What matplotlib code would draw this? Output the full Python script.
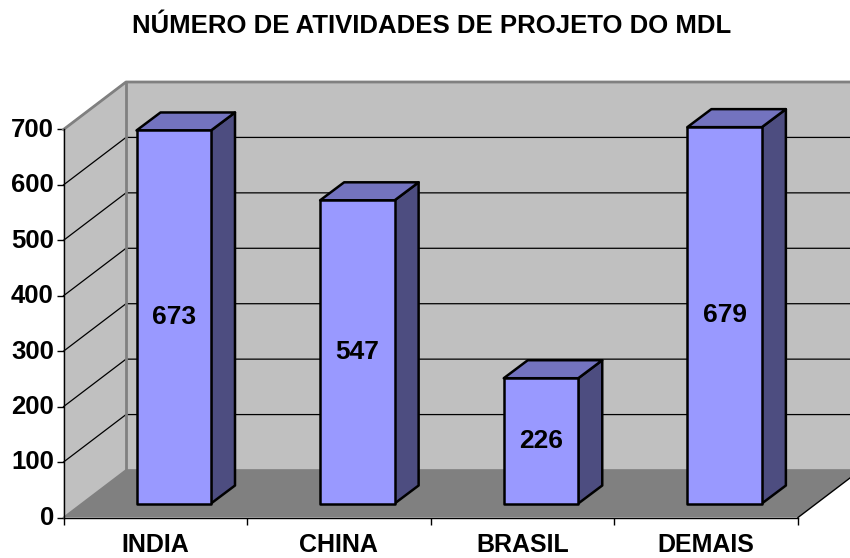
import matplotlib
matplotlib.use('Agg')
import matplotlib.pyplot as plt
from matplotlib.patches import Polygon
from matplotlib.transforms import ScaledTranslation

categories = ['INDIA', 'CHINA', 'BRASIL', 'DEMAIS']
values = [673, 547, 226, 679]
yticks = [0, 100, 200, 300, 400, 500, 600, 700]

plt.rcParams['font.family'] = ['Liberation Sans', 'DejaVu Sans']
plt.rcParams['font.weight'] = 'bold'

fig = plt.figure(figsize=(8.5, 5.58), dpi=100)
ax = fig.add_axes([63.5 / 850, (558 - 517.5) / 558, 734.5 / 850, 388 / 558])
ax.set_xlim(0, 4)
ax.set_ylim(0, 700)
ax.patch.set_visible(False)

# depth of the fake 3d box, in data units
wall_dx = 62.5 / 734.5 * 4
wall_dy = 47.5 / 388 * 700
bar_dx = 24 / 734.5 * 4
bar_dy = 18 / 388 * 700
bar_w = 74.5 / 734.5 * 4
shift_x = 73 / 734.5 * 4
shift_y = 14 / 388 * 700


def poly(pts, **kw):
    ax.add_patch(Polygon(pts, closed=True, clip_on=False, **kw))


# walls and floor
poly([(0, 0), (wall_dx, wall_dy), (wall_dx, 700 + wall_dy), (0, 700)], fc='#c0c0c0', ec='none', zorder=1)
poly([(wall_dx, wall_dy), (4 + wall_dx, wall_dy), (4 + wall_dx, 700 + wall_dy), (wall_dx, 700 + wall_dy)],
     fc='#c0c0c0', ec='none', zorder=1)
poly([(0, 0), (4, 0), (4 + wall_dx, wall_dy), (wall_dx, wall_dy)], fc='#808080', ec='none', zorder=1.5)

# gridlines run along the side wall and then across the back
for t in yticks[1:]:
    ax.plot([0, wall_dx, 4 + wall_dx], [t, t + wall_dy, t + wall_dy], color='black', lw=0.9,
            clip_on=False, zorder=2)

# gray outline of the walls
ax.plot([0, wall_dx, 4 + wall_dx], [700, 700 + wall_dy, 700 + wall_dy], color='#808080', lw=2,
        clip_on=False, zorder=2.5)
ax.plot([wall_dx, wall_dx], [wall_dy, 700 + wall_dy], color='#808080', lw=2, clip_on=False, zorder=2.5)
ax.plot([0, wall_dx, 4 + wall_dx], [0, wall_dy, wall_dy], color='#808080', lw=1.2, clip_on=False, zorder=2.5)
ax.plot([4, 4 + wall_dx], [0, wall_dy], color='black', lw=1, clip_on=False, zorder=2.5)

# bars
for i, v in enumerate(values):
    x0 = i + shift_x
    x1 = x0 + bar_w
    y0 = shift_y
    y1 = shift_y + v
    poly([(x1, y0), (x1 + bar_dx, y0 + bar_dy), (x1 + bar_dx, y1 + bar_dy), (x1, y1)],
         fc='#4d4d80', ec='black', lw=1.8, joinstyle='round', zorder=3)
    poly([(x0, y1), (x1, y1), (x1 + bar_dx, y1 + bar_dy), (x0 + bar_dx, y1 + bar_dy)],
         fc='#7373bf', ec='black', lw=1.8, joinstyle='round', zorder=3)
    poly([(x0, y0), (x1, y0), (x1, y1), (x0, y1)],
         fc='#9999ff', ec='black', lw=1.8, joinstyle='round', zorder=4)
    ax.text(x0 + bar_w / 2, y0 + v / 2, str(v), ha='center', va='center', fontsize=19,
            fontweight='bold', color='black', zorder=5)

for s in ['top', 'right']:
    ax.spines[s].set_visible(False)
for s in ['left', 'bottom']:
    ax.spines[s].set_linewidth(1)
    ax.spines[s].set_zorder(6)

ax.set_yticks(yticks)
ax.set_xticks(range(5))
ax.set_xticklabels([])
ax.tick_params(axis='both', length=5, width=1, color='black')
ax.tick_params(axis='y', labelsize=18.5, pad=2)
# tick labels sit a bit above their ticks in the original
for lab in ax.get_yticklabels():
    lab.set_transform(lab.get_transform() + ScaledTranslation(0, 1.5 / 72, fig.dpi_scale_trans))
for i, c in enumerate(categories):
    ax.annotate(c, xy=(i + 0.5, 0), xytext=(0, -20), xycoords='data', textcoords='offset points',
                ha='center', va='center', fontsize=18, fontweight='bold', annotation_clip=False)

fig.text(432 / 850, 1 - 26 / 558, 'NÚMERO DE ATIVIDADES DE PROJETO DO MDL', ha='center', va='center',
         fontsize=18.5, fontweight='bold')

plt.savefig('out.png', dpi=100)
